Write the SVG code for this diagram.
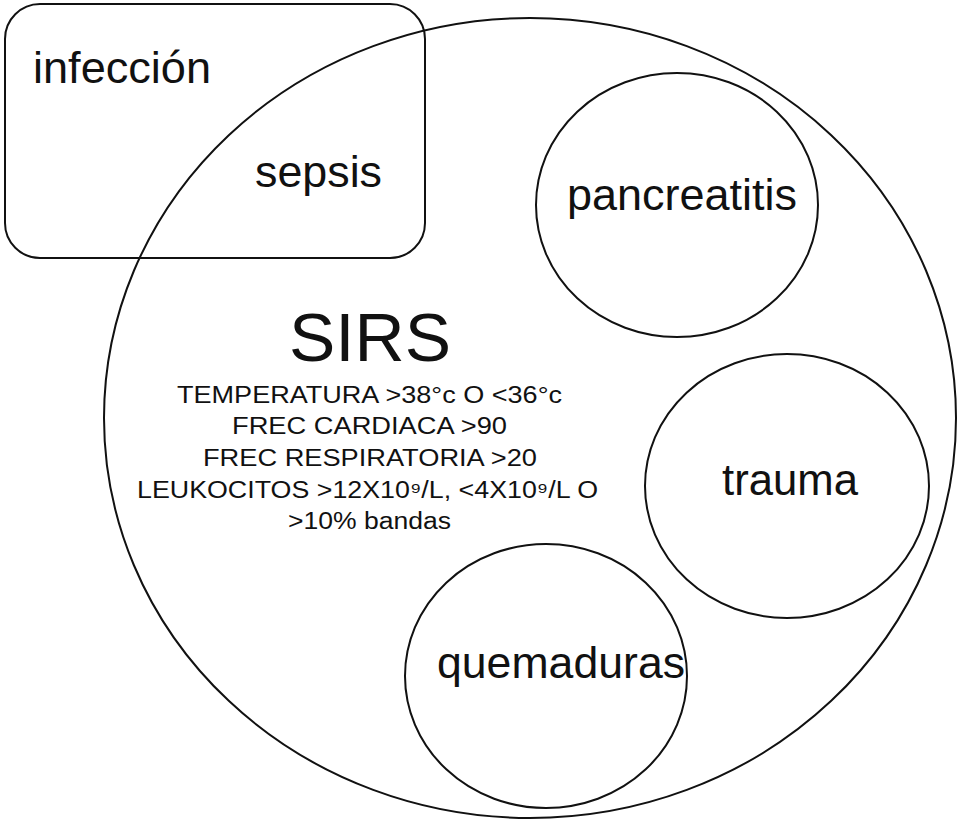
<svg xmlns="http://www.w3.org/2000/svg" width="957" height="825" viewBox="0 0 957 825">
<style>
.shape{fill:none;stroke:#111;stroke-width:2}
.lbl{font-family:"Liberation Sans",Arial,sans-serif;font-size:44px;fill:#111}
.big{font-family:"Liberation Sans",Arial,sans-serif;font-size:68px;fill:#111}
.crit{font-family:"Liberation Sans",Arial,sans-serif;font-size:23px;fill:#111}
</style>
<rect width="957" height="825" fill="#fff"/>
<g id="infeccion">
<rect class="shape" x="5" y="4" width="420" height="254" rx="35" ry="35"/>
<text class="lbl" x="33" y="83" textLength="178" lengthAdjust="spacingAndGlyphs">infección</text>
</g>
<g id="sirs">
<ellipse class="shape" cx="530" cy="418" rx="426" ry="400"/>
<text class="big" x="289" y="361" textLength="162" lengthAdjust="spacingAndGlyphs">SIRS</text>
<text class="crit" x="177" y="403" textLength="385" lengthAdjust="spacingAndGlyphs">TEMPERATURA &gt;38°c O &lt;36°c</text>
<text class="crit" x="232" y="434" textLength="275" lengthAdjust="spacingAndGlyphs">FREC CARDIACA &gt;90</text>
<text class="crit" x="203" y="466" textLength="334" lengthAdjust="spacingAndGlyphs">FREC RESPIRATORIA &gt;20</text>
<text class="crit" x="137" y="498" textLength="461" lengthAdjust="spacingAndGlyphs">LEUKOCITOS &gt;12X10⁹/L, &lt;4X10⁹/L O</text>
<text class="crit" x="288" y="529" textLength="163" lengthAdjust="spacingAndGlyphs">&gt;10% bandas</text>
</g>
<g id="sepsis">
<text class="lbl" x="255" y="187" textLength="127" lengthAdjust="spacingAndGlyphs">sepsis</text>
</g>
<g id="pancreatitis">
<ellipse class="shape" cx="677" cy="205" rx="141" ry="132"/>
<text class="lbl" x="567" y="210" textLength="230" lengthAdjust="spacingAndGlyphs">pancreatitis</text>
</g>
<g id="trauma">
<ellipse class="shape" cx="787" cy="486" rx="142" ry="132"/>
<text class="lbl" x="722" y="495" textLength="136" lengthAdjust="spacingAndGlyphs">trauma</text>
</g>
<g id="quemaduras">
<ellipse class="shape" cx="546" cy="676" rx="141" ry="132"/>
<text class="lbl" x="437" y="678" textLength="248" lengthAdjust="spacingAndGlyphs">quemaduras</text>
</g>
<g id="connectors"/>
</svg>
